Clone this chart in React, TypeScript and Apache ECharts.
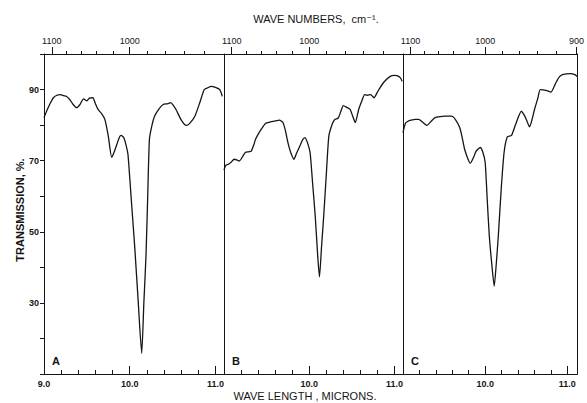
import React, { useEffect, useRef } from 'react';
import * as echarts from 'echarts';

// Panel A
const wavelengthA = [9.0, 9.03, 9.07, 9.11, 9.15, 9.19, 9.23, 9.26, 9.3, 9.34, 9.38, 9.42, 9.46, 9.5, 9.53, 9.57, 9.6, 9.63, 9.67, 9.71, 9.75, 9.79, 9.82, 9.85, 9.88, 9.9, 9.93, 9.96, 9.98, 10.02, 10.06, 10.1, 10.14, 10.165, 10.19, 10.21, 10.23, 10.26, 10.29, 10.34, 10.39, 10.44, 10.48, 10.51, 10.54, 10.6, 10.66, 10.7, 10.76, 10.82, 10.87, 10.91, 10.95, 11.0, 11.05, 11.08];
const transmissionA = [82.1, 83.9, 86.0, 87.7, 88.4, 88.6, 88.3, 88.1, 87.2, 85.8, 84.9, 85.8, 87.4, 86.8, 87.6, 87.7, 86.0, 84.4, 83.3, 81.6, 76.9, 70.9, 72.5, 74.6, 76.6, 77.1, 76.5, 74.1, 71.7, 58.5, 45.2, 30.0, 15.8, 30.0, 43.3, 60.0, 76.0, 80.0, 82.5, 84.5, 85.8, 86.0, 86.3, 85.5, 84.4, 81.5, 79.9, 80.5, 82.5, 86.5, 90.0, 90.5, 90.9, 90.6, 90.0, 88.1];

// Panel B
const wavelengthB = [9.0, 9.02, 9.05, 9.08, 9.12, 9.15, 9.18, 9.22, 9.25, 9.29, 9.32, 9.35, 9.37, 9.41, 9.45, 9.49, 9.53, 9.59, 9.65, 9.69, 9.72, 9.75, 9.78, 9.82, 9.85, 9.89, 9.92, 9.95, 9.98, 10.01, 10.04, 10.07, 10.1, 10.12, 10.145, 10.17, 10.2, 10.23, 10.27, 10.3, 10.34, 10.37, 10.4, 10.44, 10.48, 10.51, 10.54, 10.58, 10.62, 10.65, 10.68, 10.72, 10.76, 10.8, 10.83, 10.88, 10.95, 11.0, 11.03, 11.07, 11.09];
const transmissionB = [67.3, 68.7, 69.0, 69.5, 70.4, 70.2, 69.9, 71.2, 72.3, 72.5, 72.7, 74.5, 76.0, 77.8, 79.3, 80.5, 80.8, 81.1, 81.4, 80.8, 78.5, 75.1, 72.5, 70.4, 72.0, 74.1, 75.8, 76.5, 75.0, 72.3, 63.5, 54.5, 43.0, 37.3, 46.0, 54.5, 66.0, 76.9, 80.3, 81.6, 82.0, 83.8, 85.5, 85.0, 84.4, 82.5, 80.7, 84.4, 87.0, 88.6, 88.4, 88.6, 87.7, 89.3, 90.5, 92.2, 93.7, 94.0, 93.9, 93.3, 92.3];

// Panel C
const wavelengthC = [9.0, 9.03, 9.06, 9.1, 9.15, 9.19, 9.24, 9.29, 9.34, 9.39, 9.45, 9.51, 9.59, 9.64, 9.69, 9.72, 9.75, 9.79, 9.82, 9.86, 9.89, 9.94, 9.97, 10.0, 10.025, 10.05, 10.08, 10.11, 10.135, 10.16, 10.195, 10.23, 10.27, 10.32, 10.37, 10.44, 10.47, 10.5, 10.54, 10.57, 10.6, 10.64, 10.67, 10.74, 10.8, 10.86, 10.9, 10.94, 11.04, 11.09, 11.12];
const transmissionC = [77.9, 80.5, 81.1, 81.4, 81.6, 81.6, 80.8, 79.9, 81.0, 82.1, 82.4, 82.5, 82.5, 81.5, 79.3, 76.5, 73.2, 70.5, 69.3, 71.0, 72.7, 73.7, 72.5, 69.5, 59.0, 48.9, 41.0, 34.7, 41.0, 48.9, 62.0, 72.3, 76.7, 77.1, 80.2, 83.9, 83.0, 81.6, 79.5, 81.5, 84.4, 87.5, 90.0, 89.8, 89.3, 91.9, 93.5, 94.2, 94.5, 94.2, 93.7];

// Axes
const wavelengthMinorTicks = [9.2, 9.4, 9.6, 9.8, 10.2, 10.4, 10.6, 10.8];
const wavelengthMajorTicks = [10.0, 11.0];
const wavelengthLabelsFirst = [9.0, 10.0, 11.0];
const wavelengthLabelsOther = [10.0, 11.0];
const waveNumberMinorTicks = [1080, 1060, 1040, 1020, 980, 960, 940, 920];
const waveNumberMajorTicks = [1100, 1000, 900];
const transmissionLabels = [30, 50, 70, 90];
const panelLetters = ['A', 'B', 'C'];

const INK = '#151515';
const FONT = '"Liberation Sans", "DejaVu Sans", sans-serif';

export default function App() {
  const ref = useRef<HTMLDivElement>(null);

  useEffect(() => {
    if (!ref.current) return;
    const chart = echarts.init(ref.current, undefined, { renderer: 'svg' });

    const panels = [
      { left: 44, width: 180, max: 11.1, x: wavelengthA, y: transmissionA, labels: wavelengthLabelsFirst },
      { left: 224, width: 179, max: 11.1, x: wavelengthB, y: transmissionB, labels: wavelengthLabelsOther },
      { left: 403, width: 178, max: 11.12, x: wavelengthC, y: transmissionC, labels: wavelengthLabelsOther },
    ];
    const top = 54;
    const height = 320;
    const line = { show: true, onZero: false, lineStyle: { color: INK, width: 1 } };
    const noLine = { show: false, onZero: false };

    const grids: any[] = [];
    const xAxes: any[] = [];
    const yAxes: any[] = [];
    const series: any[] = [];
    const graphics: any[] = [];

    panels.forEach((p, i) => {
      grids.push({ left: p.left, top, width: p.width, height, show: false });
      const inRange = (v: number) => v >= 9.0 - 1e-9 && v <= p.max + 1e-9;
      const base = {
        gridIndex: i, type: 'value', min: 9.0, max: p.max,
        splitLine: { show: false },
      };
      xAxes.push({
        ...base, position: 'bottom', axisLine: line,
        axisTick: { show: true, inside: true, length: 4, customValues: wavelengthMinorTicks, lineStyle: { color: INK, width: 1 } },
        axisLabel: {
          show: true, customValues: p.labels, margin: 5, fontSize: 9, color: INK, fontFamily: FONT, fontWeight: 'bold',
          formatter: (v: number) => v.toFixed(1),
        },
      });
      xAxes.push({
        ...base, position: 'bottom', axisLine: noLine,
        axisTick: { show: true, inside: true, length: 8, customValues: wavelengthMajorTicks, lineStyle: { color: INK, width: 1 } },
        axisLabel: { show: false },
      });
      const wnMinor = waveNumberMinorTicks.map((w) => 10000 / w).filter(inRange);
      const wnMajor = waveNumberMajorTicks.map((w) => 10000 / w).filter(inRange);
      xAxes.push({
        ...base, position: 'top', axisLine: line,
        axisTick: { show: true, inside: false, length: 3, customValues: wnMinor, lineStyle: { color: INK, width: 1 } },
        axisLabel: { show: false },
      });
      xAxes.push({
        ...base, position: 'top', axisLine: noLine,
        axisTick: { show: true, inside: false, length: 7, customValues: wnMajor, lineStyle: { color: INK, width: 1 } },
        axisLabel: {
          show: true, customValues: wnMajor, margin: 9, fontSize: 9, color: INK, fontFamily: FONT,
          formatter: (v: number) => String(Math.round(10000 / v)),
        },
      });
      yAxes.push({
        gridIndex: i, type: 'value', min: 10, max: 100, interval: 10, position: 'left',
        axisLine: line, splitLine: { show: false },
        axisTick: { show: i === 0, inside: false, length: 4, lineStyle: { color: INK, width: 1 } },
        axisLabel: {
          show: i === 0, customValues: transmissionLabels, margin: 5, fontSize: 9, color: INK, fontFamily: FONT, fontWeight: 'bold',
        },
      });
      series.push({
        type: 'line', xAxisIndex: i * 4, yAxisIndex: i,
        data: p.x.map((xv, k) => [xv, p.y[k]]),
        showSymbol: false, smooth: 0.2,
        lineStyle: { color: INK, width: 1.3 },
        silent: true,
      });
      graphics.push({
        type: 'text', left: p.left + 8, top: 355,
        style: { text: panelLetters[i], fontSize: 11, fontWeight: 'bold', fill: INK, fontFamily: FONT },
      });
    });

    // right edge of the last panel
    yAxes.push({
      gridIndex: 2, type: 'value', min: 10, max: 100, position: 'right',
      axisLine: line, splitLine: { show: false }, axisTick: { show: false }, axisLabel: { show: false },
    });

    graphics.push({
      type: 'text', x: 316, y: 19,
      style: { text: 'WAVE NUMBERS,  cm⁻¹.', fontSize: 11, fill: INK, fontFamily: FONT, align: 'center', verticalAlign: 'middle' },
    });
    graphics.push({
      type: 'text', x: 305, y: 396,
      style: { text: 'WAVE LENGTH , MICRONS.', fontSize: 11, fill: INK, fontFamily: FONT, align: 'center', verticalAlign: 'middle' },
    });
    graphics.push({
      type: 'text', x: 20, y: 210, rotation: Math.PI / 2,
      style: { text: 'TRANSMISSION, %.', fontSize: 11, fontWeight: 'bold', fill: INK, fontFamily: FONT, align: 'center', verticalAlign: 'middle' },
    });

    chart.setOption({
      animation: false,
      backgroundColor: '#ffffff',
      grid: grids,
      xAxis: xAxes,
      yAxis: yAxes,
      series,
      graphic: graphics,
    });

    return () => chart.dispose();
  }, []);

  return <div ref={ref} style={{ position: 'absolute', left: 0, top: 0, width: 587, height: 403 }} />;
}
